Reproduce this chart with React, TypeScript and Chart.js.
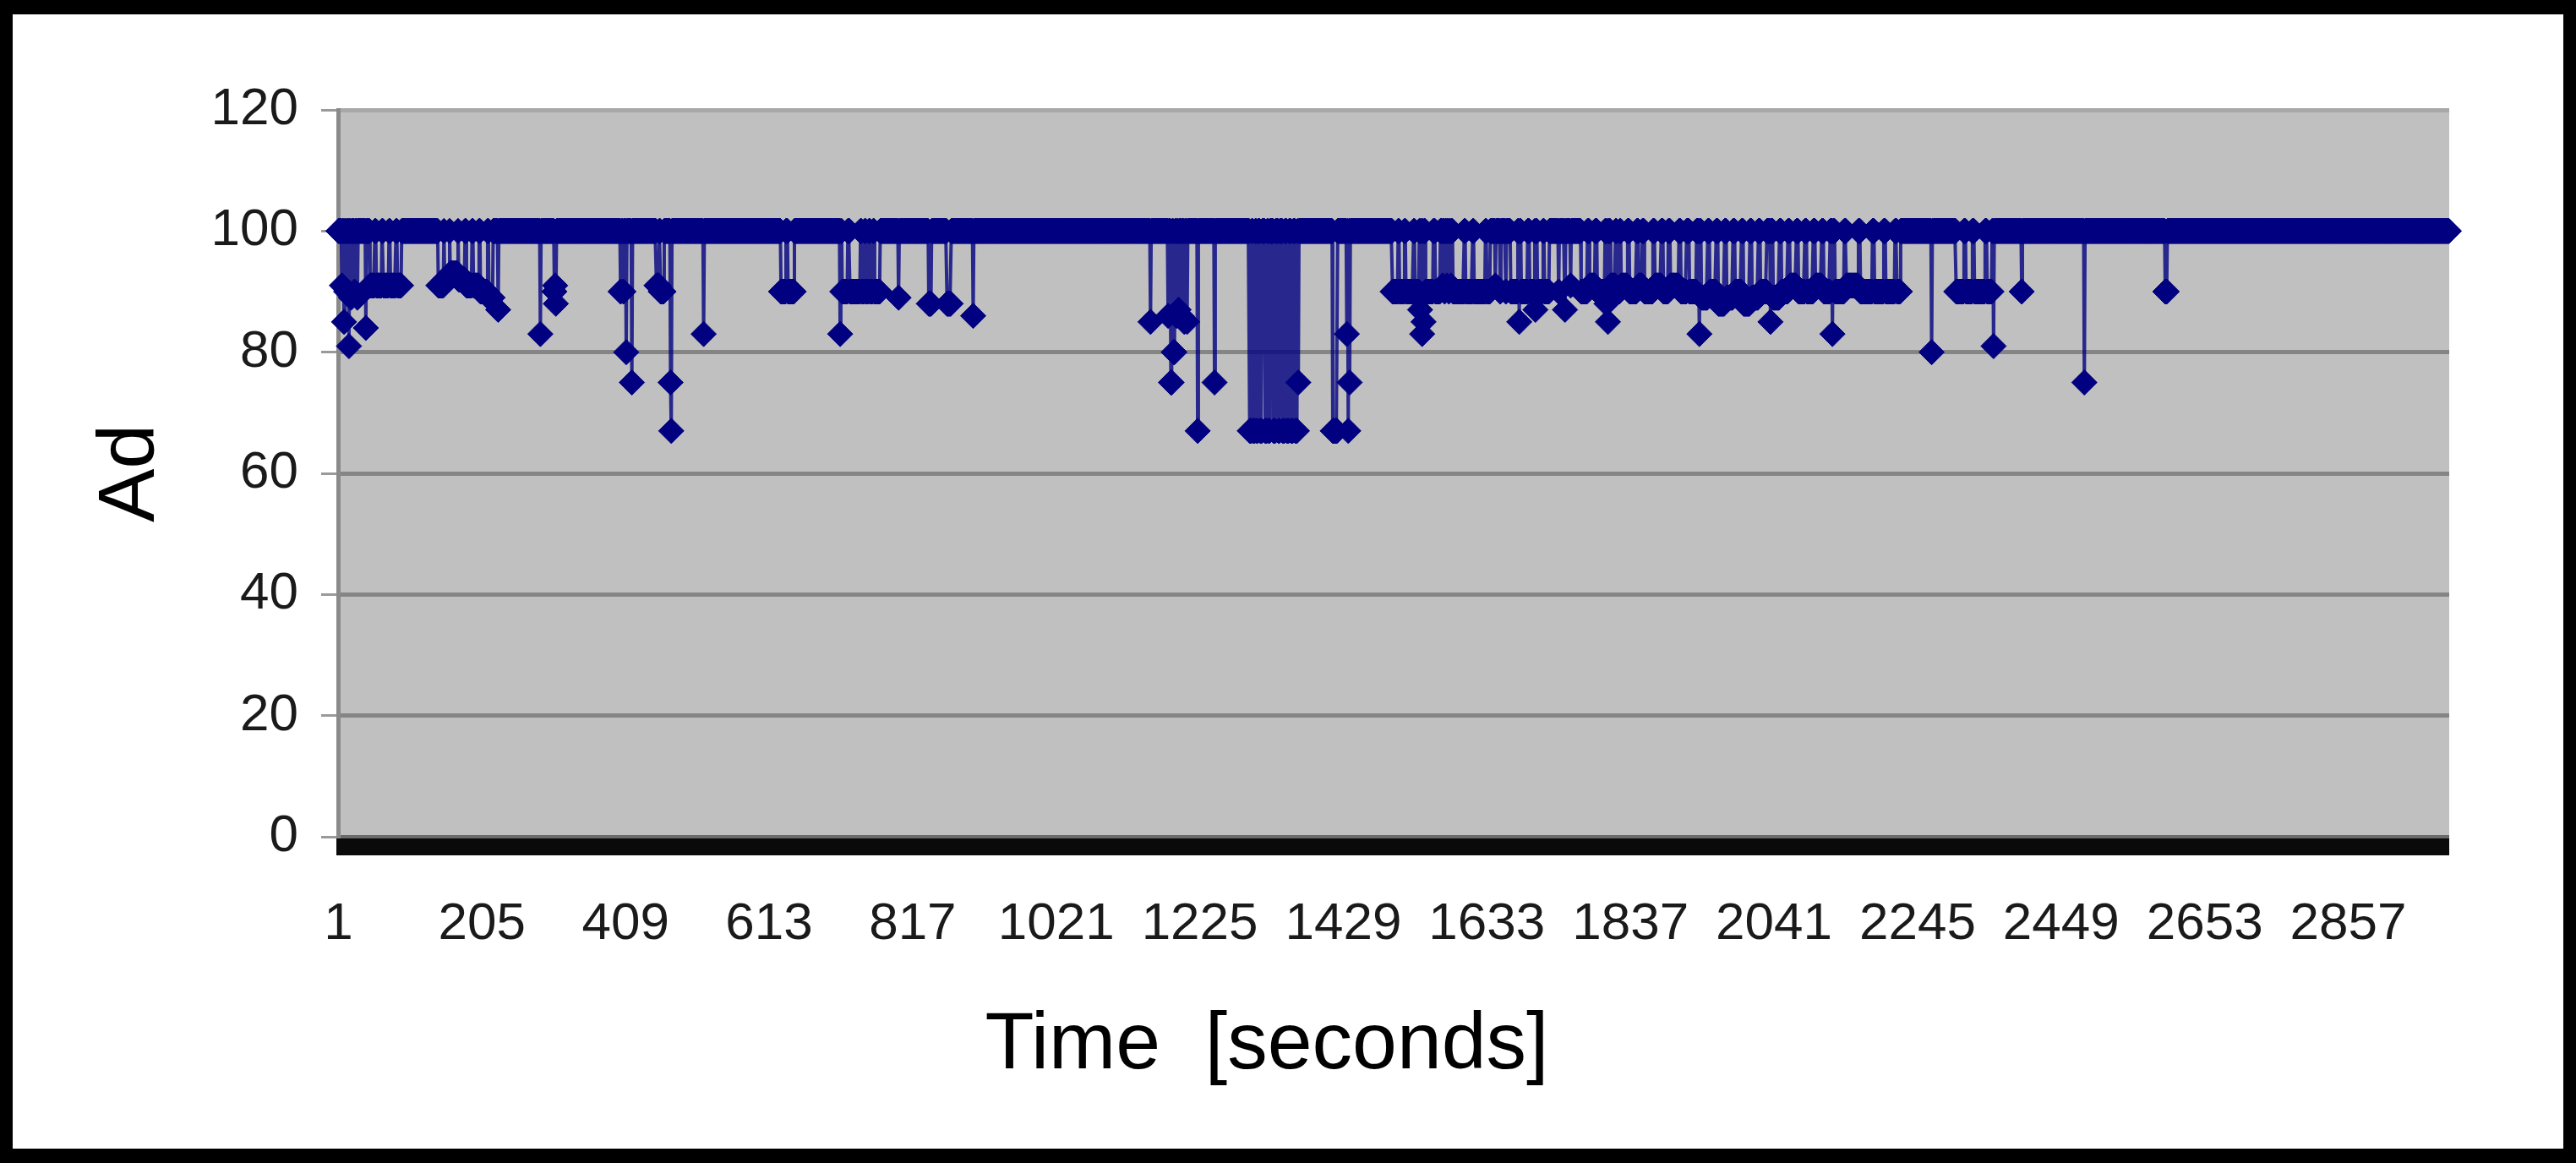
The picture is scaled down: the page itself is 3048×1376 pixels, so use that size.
import React, { useEffect, useRef } from "react";
import { Chart, registerables } from "chart.js";

Chart.register(...registerables);

// ---- data ----
const TOTAL_SECONDS = 3000;
const BASELINE_AD = 100;

const xTickLabels = [1, 205, 409, 613, 817, 1021, 1225, 1429, 1633, 1837, 2041, 2245, 2449, 2653, 2857];
const yTickValues = [0, 20, 40, 60, 80, 100, 120];

// single-second dips
const dipSecond = [
  6, 9, 12, 16, 19, 24, 28, 40, 228, 288, 308, 309, 310, 402, 406, 410, 418, 473, 474, 520,
  714, 797, 903, 1155, 1180, 1184, 1185, 1188, 1189, 1192, 1195, 1199, 1203, 1207, 1222, 1246,
  1365, 1434, 1436, 1438, 1538, 1541, 1543, 1570, 1573, 1576, 1579, 1582, 1645, 1652, 1660,
  1679, 1702, 1735, 1744, 1752, 1803, 1805, 1935, 2036, 2124, 2265, 2353, 2393, 2482,
];
const dipValue = [
  91, 85, 90, 81, 89, 90, 89, 84, 87, 83, 90, 91, 88, 90, 90, 80, 75, 75, 67, 83,
  83, 89, 86, 85, 86, 75, 75, 80, 80, 86, 87, 86, 85, 85, 67, 75,
  75, 83, 67, 75, 87, 83, 85, 91, 90, 91, 90, 91, 91, 90, 90,
  85, 87, 90, 87, 91, 88, 85, 83, 85, 83, 80, 81, 90, 75,
];

// plateaus (consecutive seconds at one level)
const runFrom = [
  46, 55, 65, 75, 85,
  143, 152, 160, 172, 183, 193, 203, 215,
  453, 459, 630, 640,
  717, 728, 745, 751, 757, 763, 840, 866,
  1296, 1301, 1306, 1311, 1318, 1323, 1330, 1337, 1343, 1349, 1355, 1361, 1414,
  1499, 1509, 1518, 1531, 1546, 1560, 1585, 1603, 1615, 1633,
  1667, 1682, 1694, 1705, 1715,
  1767, 1779, 1790, 1809, 1818,
  1824, 1836, 1849, 1857, 1872, 1884, 1894, 1909,
  1921, 1938, 1950, 1962, 1974, 1986, 1998, 2010, 2022, 2040, 2052, 2064, 2076, 2088, 2100, 2112, 2128, 2144, 2164, 2184, 2200, 2216,
  2300, 2314, 2326, 2344, 2597,
];
const runTo = [
  52, 62, 72, 82, 90,
  150, 158, 170, 180, 190, 200, 212, 220,
  456, 463, 636, 648,
  724, 742, 748, 754, 760, 770, 843, 871,
  1298, 1303, 1307, 1313, 1320, 1324, 1332, 1338, 1345, 1351, 1357, 1363, 1420,
  1506, 1515, 1528, 1536, 1556, 1566, 1600, 1612, 1630, 1637,
  1676, 1690, 1700, 1712, 1721,
  1775, 1786, 1800, 1815, 1821,
  1832, 1845, 1853, 1868, 1880, 1890, 1905, 1916,
  1930, 1946, 1958, 1970, 1982, 1994, 2006, 2018, 2030, 2048, 2060, 2072, 2084, 2096, 2108, 2120, 2140, 2160, 2180, 2196, 2212, 2220,
  2310, 2322, 2340, 2350, 2599,
];
const runValue = [
  91, 91, 91, 91, 91,
  91, 92, 93, 92, 91, 91, 90, 89,
  91, 90, 90, 90,
  90, 90, 90, 90, 90, 90, 88, 88,
  67, 67, 67, 67, 67, 67, 67, 67, 67, 67, 67, 67, 67,
  90, 90, 90, 90, 90, 90, 90, 90, 90, 90,
  90, 90, 90, 90, 90,
  90, 91, 90, 91, 90,
  91, 90, 91, 90, 91, 90, 91, 90,
  90, 89, 90, 88, 89, 90, 88, 89, 90, 89, 90, 91, 90, 90, 91, 90, 90, 91, 90, 90, 90, 90,
  90, 90, 90, 90, 90,
];

const FONT_FAMILY = '"Liberation Sans", Arial, Helvetica, sans-serif';
const X_TITLE = "Time  [seconds]";
const Y_TITLE = "Ad";

function buildSeries() {
  const values: number[] = new Array(TOTAL_SECONDS).fill(BASELINE_AD);
  for (let r = 0; r < runFrom.length; r++) {
    for (let s = runFrom[r]; s <= runTo[r]; s++) values[s - 1] = runValue[r];
  }
  for (let k = 0; k < dipSecond.length; k++) values[dipSecond[k] - 1] = dipValue[k];
  return values.map((y, i) => ({ x: i + 1, y }));
}

const plotDecor = {
  id: "plotDecor",
  beforeDraw(chart: any) {
    const { ctx, chartArea: a } = chart;
    ctx.save();
    ctx.fillStyle = "#c0c0c0";
    ctx.fillRect(a.left, a.top, a.right - a.left, a.bottom - a.top);
    ctx.restore();
  },
  afterDraw(chart: any) {
    const { ctx, chartArea: a } = chart;
    ctx.save();
    ctx.fillStyle = "#0a0a0a";
    ctx.fillRect(a.left - 2, a.bottom + 2, a.right - a.left + 2, 20);
    ctx.fillStyle = "#000";
    ctx.font = `95px ${FONT_FAMILY}`;
    ctx.textAlign = "center";
    ctx.textBaseline = "alphabetic";
    ctx.fillText(X_TITLE, chart.width / 2 - 25, a.bottom + 274);
    ctx.restore();
  },
};

export default function App() {
  const ref = useRef<HTMLCanvasElement>(null);

  useEffect(() => {
    const canvas = ref.current;
    if (!canvas) return;
    const chart = new Chart(canvas, {
      type: "line",
      data: {
        datasets: [
          {
            label: Y_TITLE,
            data: buildSeries(),
            borderColor: "rgba(0,0,128,0.8)",
            backgroundColor: "#000080",
            borderWidth: 4,
            tension: 0,
            pointStyle: "rectRot",
            pointRadius: 15,
            pointHoverRadius: 15,
            pointBackgroundColor: "#000080",
            pointBorderColor: "#000080",
            pointBorderWidth: 1,
            clip: false as any,
          },
        ],
      },
      options: {
        animation: false,
        responsive: false,
        devicePixelRatio: 1,
        events: [],
        layout: { padding: { top: 113, right: 135, bottom: 0, left: 0 } },
        plugins: {
          legend: { display: false },
          tooltip: { enabled: false },
          title: { display: false },
        },
        scales: {
          x: {
            type: "linear",
            min: 0.5,
            max: TOTAL_SECONDS + 0.5,
            afterFit: (s: any) => {
              s.height = 369;
            },
            afterBuildTicks: (s: any) => {
              s.ticks = xTickLabels.map((v) => ({ value: v }));
            },
            grid: { display: false, drawTicks: false },
            border: { display: false },
            ticks: {
              autoSkip: false,
              maxRotation: 0,
              minRotation: 0,
              padding: 67,
              color: "#1a1a1a",
              font: { family: FONT_FAMILY, size: 62 },
              callback: (v: any) => String(v),
            },
          },
          y: {
            type: "linear",
            min: 0,
            max: 120,
            afterFit: (s: any) => {
              s.width = 385;
            },
            afterBuildTicks: (s: any) => {
              s.ticks = yTickValues.map((v) => ({ value: v }));
            },
            grid: {
              color: (c: any) =>
                c.tick && c.tick.value === 120 ? "#a8a8a8" : c.tick && c.tick.value === 0 ? "#6a6a6a" : "#858585",
              lineWidth: 5,
              drawTicks: true,
              tickLength: 20,
              tickColor: "#9a9a9a",
              tickWidth: 3,
            },
            border: { display: true, color: "#8a8a8a", width: 5 },
            ticks: {
              padding: 27,
              color: "#1a1a1a",
              font: { family: FONT_FAMILY, size: 62 },
              callback: (v: any) => String(v),
            },
            title: {
              display: true,
              text: Y_TITLE,
              color: "#000",
              font: { family: FONT_FAMILY, size: 95 },
              padding: { top: 84, bottom: 0 },
            },
          },
        },
      },
      plugins: [plotDecor],
    } as any);
    return () => chart.destroy();
  }, []);

  return (
    <div style={{ position: "absolute", left: 0, top: 0, width: 3048, height: 1376, background: "#000" }}>
      <div style={{ position: "absolute", left: 15, top: 17, width: 3018, height: 1342, background: "#fff" }}>
        <canvas ref={ref} width={3018} height={1342} style={{ display: "block", width: 3018, height: 1342 }} />
      </div>
    </div>
  );
}
